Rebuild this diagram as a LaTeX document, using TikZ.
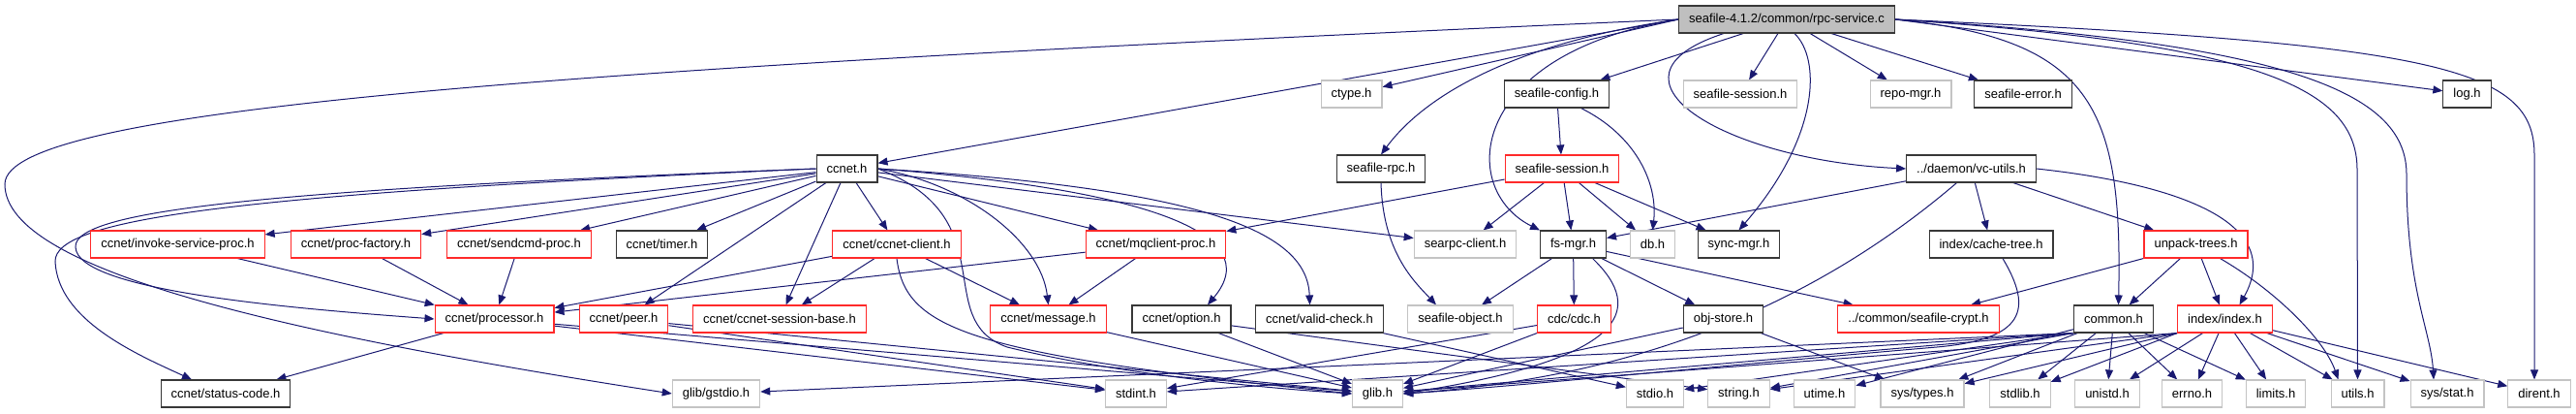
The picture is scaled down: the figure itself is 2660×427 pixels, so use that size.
\documentclass[tikz,border=0pt]{standalone}
\usepackage{fontspec}
\setmainfont{Liberation Sans}
\usetikzlibrary{arrows.meta, calc, backgrounds}
\definecolor{edgeblue}{HTML}{191970}
\definecolor{boxred}{HTML}{FF2A2A}
\definecolor{boxgray}{HTML}{C4C4C4}
\definecolor{boxblack}{HTML}{383838}
\definecolor{rootfill}{HTML}{BFBFBF}

\begin{document}
\begin{tikzpicture}[
    x=1pt, y=-1pt,
    >={Triangle[length=10pt, width=8pt]},
    every node/.style={font=\fontsize{13}{15}\selectfont},
    hfile/.style={draw=#1, fill=white, rectangle, minimum height=28pt,
                  inner xsep=10.5pt, inner ysep=0pt, line width=1.1pt},
    incl/.style={->, edgeblue, line width=1pt},
]
\useasboundingbox (0,0) rectangle (2660,427);

% Source file
\node[hfile=boxblack, fill=rootfill] (root) at (1845, 20) {seafile-4.1.2/common/rpc-service.c};

% Row 1
\node[hfile=boxgray]  (ctype)    at (1395.5, 97) {ctype.h};
\node[hfile=boxblack] (sfconfig) at (1607.5, 97) {seafile-config.h};
\node[hfile=boxgray]  (sfsessx)  at (1797, 97)   {seafile-session.h};
\node[hfile=boxgray]  (repomgr)  at (1973, 97)   {repo-mgr.h};
\node[hfile=boxblack] (sferror)  at (2089, 97)   {seafile-error.h};
\node[hfile=boxblack] (logh)     at (2547.5, 97) {log.h};

% Row 2
\node[hfile=boxblack] (ccnet)   at (874.5, 174)  {ccnet.h};
\node[hfile=boxblack] (sfrpc)   at (1426, 174)   {seafile-rpc.h};
\node[hfile=boxred]   (sfsess)  at (1613, 174)   {seafile-session.h};
\node[hfile=boxblack] (vcutils) at (2035.5, 174) {../daemon/vc-utils.h};

% Row 3
\node[hfile=boxred]   (invoke)    at (183.5, 252)  {ccnet/invoke-service-proc.h};
\node[hfile=boxred]   (procfact)  at (367.5, 252)  {ccnet/proc-factory.h};
\node[hfile=boxred]   (sendcmd)   at (536, 252)    {ccnet/sendcmd-proc.h};
\node[hfile=boxblack] (timer)     at (683.5, 252)  {ccnet/timer.h};
\node[hfile=boxred]   (cclient)   at (926, 252)    {ccnet/ccnet-client.h};
\node[hfile=boxred]   (mqclient)  at (1193.5, 252) {ccnet/mqclient-proc.h};
\node[hfile=boxgray]  (searpc)    at (1513, 252)   {searpc-client.h};
\node[hfile=boxblack] (fsmgr)     at (1624.5, 252) {fs-mgr.h};
\node[hfile=boxgray]  (dbh)       at (1706.5, 252) {db.h};
\node[hfile=boxblack] (syncmgr)   at (1795.5, 252) {sync-mgr.h};
\node[hfile=boxblack] (cachetree) at (2056, 252)   {index/cache-tree.h};
\node[hfile=boxred]   (unpack)    at (2267.5, 252) {unpack-trees.h};

% Row 4
\node[hfile=boxred]   (processor) at (510.5, 329)  {ccnet/processor.h};
\node[hfile=boxred]   (peer)      at (644, 329)    {ccnet/peer.h};
\node[hfile=boxred]   (sessbase)  at (805, 329)    {ccnet/ccnet-session-base.h};
\node[hfile=boxred]   (message)   at (1082.5, 329) {ccnet/message.h};
\node[hfile=boxblack] (option)    at (1220, 329)   {ccnet/option.h};
\node[hfile=boxblack] (validchk)  at (1362.5, 329) {ccnet/valid-check.h};
\node[hfile=boxgray]  (sfobject)  at (1508, 329)   {seafile-object.h};
\node[hfile=boxred]   (cdc)       at (1625.5, 329) {cdc/cdc.h};
\node[hfile=boxblack] (objstore)  at (1779.5, 329) {obj-store.h};
\node[hfile=boxred]   (crypt)     at (1981, 329)   {../common/seafile-crypt.h};
\node[hfile=boxblack] (common)    at (2182.5, 329) {common.h};
\node[hfile=boxred]   (index)     at (2297.5, 329) {index/index.h};

% Row 5
\node[hfile=boxblack] (status)   at (233, 406)    {ccnet/status-code.h};
\node[hfile=boxgray]  (gstdio)   at (739.5, 406)  {glib/gstdio.h};
\node[hfile=boxgray]  (stdint)   at (1173, 406)   {stdint.h};
\node[hfile=boxgray]  (glib)     at (1422.5, 406) {glib.h};
\node[hfile=boxgray]  (stdio)    at (1709, 406)   {stdio.h};
\node[hfile=boxgray]  (string)   at (1795.5, 406) {string.h};
\node[hfile=boxgray]  (utime)    at (1884, 406)   {utime.h};
\node[hfile=boxgray]  (systypes) at (1985, 406)   {sys/types.h};
\node[hfile=boxgray]  (stdlib)   at (2086, 406)   {stdlib.h};
\node[hfile=boxgray]  (unistd)   at (2176, 406)   {unistd.h};
\node[hfile=boxgray]  (errno)    at (2263.5, 406) {errno.h};
\node[hfile=boxgray]  (limits)   at (2350, 406)   {limits.h};
\node[hfile=boxgray]  (utils)    at (2434.5, 406) {utils.h};
\node[hfile=boxgray]  (sysstat)  at (2527, 406)   {sys/stat.h};
\node[hfile=boxgray]  (dirent)   at (2622, 406)   {dirent.h};

\begin{scope}[on background layer]
% includes of the source file
\draw[incl] (root.west) .. controls (600,70) and (5,110) .. (5,190)
            .. controls (5,280) and (300,345) .. (gstdio.west);
\draw[incl] (root.west) -- (ccnet);
\draw[incl] (root.west) -- (ctype);
\draw[incl] (root.west) .. controls (1560,45) and (1470,100) .. (sfrpc.north);
\draw[incl] (root.west) .. controls (1515,55) and (1505,195) .. (fsmgr.north west);
\draw[incl] (root) -- (sfconfig);
\draw[incl] (root) -- (sfsessx);
\draw[incl] ($(root.south)+(8,0)$) .. controls (1880,60) and (1880,140) .. (syncmgr.north);
\draw[incl] (root) -- (repomgr);
\draw[incl] (root) -- (sferror);
\draw[incl] ($(root.south)+(-65,0)$) .. controls (1640,80) and (1780,165) .. (vcutils.west);
\draw[incl] (root.east) .. controls (2160,40) and (2192,110) .. ($(common.north)+(5,0)$);
\draw[incl] (root.east) -- (logh);
\draw[incl] (root.east) .. controls (2330,45) and (2434,90) .. (2434,175) -- (utils.north);
\draw[incl] (root.east) .. controls (2380,45) and (2485,100) .. (2485,180)
            .. controls (2485,300) and (2510,340) .. ($(sysstat.north)+(-14,0)$);
\draw[incl] (root.east) .. controls (2520,45) and (2617,70) .. (2617,160) -- ($(dirent.north)+(-5,0)$);

% ccnet.h
\draw[incl] (ccnet) -- (invoke);
\draw[incl] (ccnet) -- (procfact);
\draw[incl] (ccnet) -- (sendcmd);
\draw[incl] (ccnet) -- (timer);
\draw[incl] (ccnet) -- (peer);
\draw[incl] (ccnet) -- (sessbase);
\draw[incl] (ccnet) -- (cclient);
\draw[incl] (ccnet) -- (mqclient);
\draw[incl] (ccnet) -- (searpc);
\draw[incl] (ccnet.east) .. controls (1000,190) and (1075,250) .. (message.north);
\draw[incl] (ccnet.east) .. controls (1180,195) and (1310,240) .. ($(option.north)+(27,0)$);
\draw[incl] (ccnet.east) .. controls (1250,195) and (1350,240) .. ($(validchk.north)+(-10,0)$);
\draw[incl] (ccnet.east) .. controls (1040,225) and (960,330) .. (1040,358)
            .. controls (1150,385) and (1300,400) .. (glib.west);
\draw[incl] (ccnet.west) .. controls (300,195) and (75,215) .. (78,255)
            .. controls (80,300) and (300,318) .. (processor.west);
\draw[incl] (ccnet.west) .. controls (250,200) and (55,225) .. (57,270)
            .. controls (60,330) and (140,365) .. ($(status.north)+(-35,0)$);

% ccnet processors
\draw[incl] (invoke) -- (processor);
\draw[incl] (procfact) -- (processor);
\draw[incl] (sendcmd) -- (processor);
\draw[incl] (cclient) -- (processor);
\draw[incl] (mqclient) -- (processor);
\draw[incl] (cclient) -- (sessbase);
\draw[incl] (cclient) -- (message);
\draw[incl] (mqclient) -- (message);
\draw[incl] (cclient.south) .. controls (935,340) and (1000,365) .. (glib.west);

% seafile headers
\draw[incl] (sfconfig) -- (sfsess);
\draw[incl] ($(sfconfig.south)+(25,0)$) .. controls (1690,140) and (1712,190) .. (dbh.north);
\draw[incl] (sfsess) -- (mqclient);
\draw[incl] (sfsess) -- (searpc);
\draw[incl] (sfsess) -- (fsmgr);
\draw[incl] (sfsess) -- (dbh);
\draw[incl] (sfsess) -- (syncmgr);
\draw[incl] (sfrpc.south) .. controls (1428,260) and (1460,290) .. ($(sfobject.north)+(-25,0)$);

% vc-utils.h
\draw[incl] (vcutils) -- (fsmgr);
\draw[incl] (vcutils) -- (cachetree);
\draw[incl] (vcutils) -- (unpack);
\draw[incl] (vcutils.east) .. controls (2250,190) and (2360,230) .. ($(index.north)+(15,0)$);
\draw[incl] ($(vcutils.south)+(-15,0)$) .. controls (1820,360) and (1600,395) .. (glib.east);
\draw[incl] ($(cachetree.south)+(12,0)$) .. controls (2100,320) and (2090,350) .. (2000,358)
            .. controls (1800,375) and (1550,400) .. (glib.east);

% fs-mgr.h
\draw[incl] (fsmgr) -- (sfobject);
\draw[incl] (fsmgr) -- (cdc);
\draw[incl] (fsmgr) -- (objstore);
\draw[incl] (fsmgr) -- (crypt);
\draw[incl] ($(fsmgr.south)+(20,0)$) .. controls (1700,320) and (1680,370) .. (glib.east);

% unpack-trees.h
\draw[incl] (unpack) -- (crypt);
\draw[incl] (unpack) -- (common);
\draw[incl] (unpack) -- (index);
\draw[incl] ($(unpack.south)+(25,0)$) .. controls (2350,300) and (2400,350) .. ($(utils.north)+(-20,0)$);

% row 4 to system headers
\draw[incl] (processor) -- (status);
\draw[incl] (processor) -- (glib);
\draw[incl] (processor) -- (stdint);
\draw[incl] (peer) -- (glib);
\draw[incl] (peer) -- (stdint);
\draw[incl] (message) -- (glib);
\draw[incl] (option) -- (glib);
\draw[incl] (option) -- (string);
\draw[incl] (validchk) -- (stdio);
\draw[incl] (cdc) -- (glib);
\draw[incl] (cdc) -- (stdint);
\draw[incl] (objstore) -- (glib);
\draw[incl] (objstore) -- (systypes);

% common.h
\draw[incl] (common.south west) -- (glib);
\draw[incl] (common.south west) -- (gstdio);
\draw[incl] (common.south west) -- (stdint);
\draw[incl] (common.south west) -- (stdio);
\draw[incl] (common.south west) -- (string);
\draw[incl] (common) -- (utime);
\draw[incl] (common) -- (systypes);
\draw[incl] (common) -- (stdlib);
\draw[incl] (common) -- (unistd);
\draw[incl] (common) -- (errno);
\draw[incl] (common) -- (limits);

% index/index.h
\draw[incl] (index.south west) -- (glib);
\draw[incl] (index.south west) -- (string);
\draw[incl] (index.south west) -- (systypes);
\draw[incl] (index.south west) -- (stdlib);
\draw[incl] (index) -- (unistd);
\draw[incl] (index) -- (errno);
\draw[incl] (index) -- (limits);
\draw[incl] (index) -- (utils);
\draw[incl] (index) -- (sysstat);
\draw[incl] (index) -- (dirent);
\end{scope}

\end{tikzpicture}
\end{document}
